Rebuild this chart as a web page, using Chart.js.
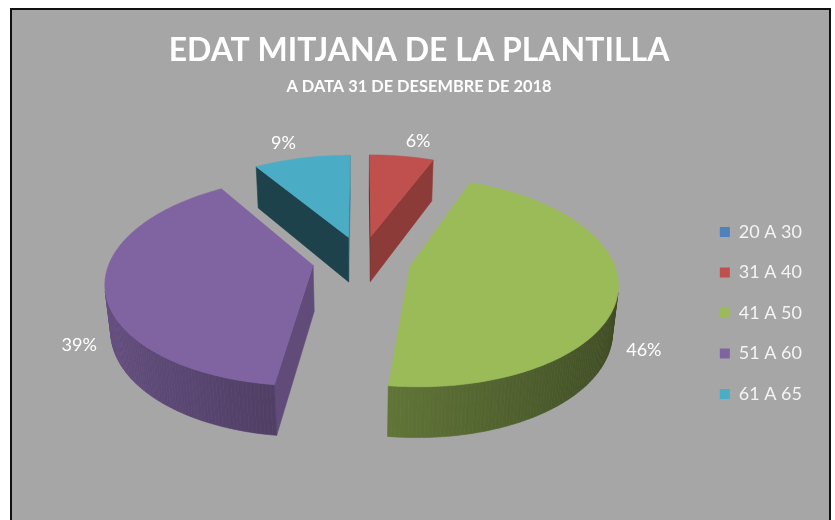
<!DOCTYPE html>
<html><head><meta charset="utf-8">
<script src="https://cdn.jsdelivr.net/npm/chart.js@4.4.1/dist/chart.umd.min.js"></script>
<style>
html,body{margin:0;padding:0;background:#fff;overflow:hidden;}
#frame{position:absolute;left:10px;top:8px;width:821px;height:540px;background:#a6a6a6;border:2px solid #111;box-sizing:border-box;}
#c{position:absolute;left:0;top:0;}
</style></head><body>
<div id="frame"></div>
<canvas id="c" width="835" height="520"></canvas>
<script>
const categories = ['20 A 30', '31 A 40', '41 A 50', '51 A 60', '61 A 65'];
const shares = [0, 6, 46, 39, 9];
const chartTitle = 'EDAT MITJANA DE LA PLANTILLA';
const chartSubtitle = 'A DATA 31 DE DESEMBRE DE 2018';
const sliceColors = ['#4F81BD', '#C0504D', '#9BBB59', '#8064A2', '#4BACC6'];

function hexToRgb(h){ const n = parseInt(h.slice(1), 16); return [(n >> 16) & 255, (n >> 8) & 255, n & 255]; }
function shade(h, f){ const [r, g, b] = hexToRgb(h); const c = v => Math.max(0, Math.min(255, Math.round(v * f))); return `rgb(${c(r)},${c(g)},${c(b)})`; }
function centroid(pts){ const c = [0, 0, 0]; pts.forEach(P => { c[0] += P[0]; c[1] += P[1]; c[2] += P[2]; }); return c.map(v => v / pts.length); }

const pie3d = {
  id: 'pie3d',
  beforeDatasetDraw(){ return false; },
  afterDatasetsDraw(chart, args, o){
    const meta = chart.getDatasetMeta(0);
    const all = meta.data;
    if (!all.length) return;
    const ctx = chart.ctx;
    const R = all[0].outerRadius;
    const S0 = o.scale * R, cx = all[0].x, cy = all[0].y - o.lift * R;
    const al = o.elevation * Math.PI / 180, sa = Math.sin(al), ca = Math.cos(al), ta = sa / ca;
    const p = o.perspective, H = o.depth, Dc = ca / p;
    const cam = [0, Dc * sa, -Dc * ca];
    const proj = P => { const w = 1 + p * P[2] - p * ta * P[1]; const s = S0 / w; return [cx + s * P[0], cy - s * (P[1] * ca + P[2] * sa)]; };
    const visible = (n, P) => n[0] * (cam[0] - P[0]) + n[1] * (cam[1] - P[1]) + n[2] * (cam[2] - P[2]) > 0;
    const dist = P => Math.hypot(cam[0] - P[0], cam[1] - P[1], cam[2] - P[2]);
    const fillPoly = (pts, color) => {
      ctx.beginPath();
      pts.forEach((P, i) => { const q = proj(P); if (i) ctx.lineTo(q[0], q[1]); else ctx.moveTo(q[0], q[1]); });
      ctx.closePath();
      ctx.fillStyle = color; ctx.fill();
      ctx.strokeStyle = color; ctx.lineWidth = 0.6; ctx.stroke();
    };
    const slices = [];
    all.forEach((a, idx) => {
      if (a.endAngle - a.startAngle < 1e-6) return;
      const t0 = a.startAngle + Math.PI / 2, t1 = a.endAngle + Math.PI / 2, tm = (t0 + t1) / 2;
      const e = (a.options.offset || 0) / R;
      slices.push({ idx, t0, t1, tm, ox: e * Math.sin(tm), oz: e * Math.cos(tm), color: a.options.backgroundColor });
    });
    const sd = s => dist([s.ox + 0.5 * Math.sin(s.tm), 0, s.oz + 0.5 * Math.cos(s.tm)]);
    slices.sort((A, B) => sd(B) - sd(A));
    const pt = (s, t, Y) => [s.ox + Math.sin(t), Y, s.oz + Math.cos(t)];
    ctx.save();
    slices.forEach(s => {
      const faces = [];
      const A0 = [s.ox, 0, s.oz], A1 = [s.ox, -H, s.oz];
      const ns = [-Math.cos(s.t0), 0, Math.sin(s.t0)];
      faces.push({ pts: [A0, pt(s, s.t0, 0), pt(s, s.t0, -H), A1], n: ns, f: o.cutBase + o.cutSlope * ns[0] });
      const ne = [Math.cos(s.t1), 0, -Math.sin(s.t1)];
      faces.push({ pts: [A0, pt(s, s.t1, 0), pt(s, s.t1, -H), A1], n: ne, f: o.cutBase + o.cutSlope * ne[0] });
      const steps = Math.max(2, Math.ceil((s.t1 - s.t0) / (Math.PI / 180)));
      for (let k = 0; k < steps; k++) {
        const u0 = s.t0 + (s.t1 - s.t0) * k / steps, u1 = s.t0 + (s.t1 - s.t0) * (k + 1) / steps, um = (u0 + u1) / 2;
        const n = [Math.sin(um), 0, Math.cos(um)];
        faces.push({ pts: [pt(s, u0, 0), pt(s, u1, 0), pt(s, u1, -H), pt(s, u0, -H)], n, f: o.wallBase + o.wallSlope * n[0] });
      }
      const vis = faces.filter(F => visible(F.n, centroid(F.pts)));
      vis.sort((F, G) => dist(centroid(G.pts)) - dist(centroid(F.pts)));
      vis.forEach(F => fillPoly(F.pts, shade(s.color, F.f)));
      const top = [A0];
      for (let k = 0; k <= steps; k++) top.push(pt(s, s.t0 + (s.t1 - s.t0) * k / steps, 0));
      fillPoly(top, s.color);
    });
    // percentage labels
    const data = chart.data.datasets[0].data;
    const total = data.reduce((x, y) => x + y, 0);
    ctx.font = `${o.labelSize}px ${o.labelFont}`;
    ctx.fillStyle = o.labelColor; ctx.textAlign = 'center'; ctx.textBaseline = 'middle';
    slices.forEach(s => {
      const txt = Math.round(data[s.idx] / total * 100) + '%';
      const front = Math.cos(s.tm) < 0;
      const P = [s.ox + o.labelRadius * Math.sin(s.tm), front ? -H : 0, s.oz + o.labelRadius * Math.cos(s.tm)];
      let [lx, ly] = proj(P);
      const tw = ctx.measureText(txt).width;
      if (front) { ly += o.labelSize / 3; }
      else { lx += Math.sign(Math.sin(s.tm)) * tw * 0.5; ly -= o.labelSize / 4; }
      ctx.fillText(txt, lx, ly);
    });
    ctx.restore();
  }
};

new Chart(document.getElementById('c'), {
  type: 'pie',
  data: {
    labels: categories,
    datasets: [{ data: shares, backgroundColor: sliceColors, borderWidth: 0, offset: 44, hoverOffset: 0 }]
  },
  options: {
    responsive: false,
    animation: false,
    devicePixelRatio: 1,
    events: [],
    layout: { padding: { top: 10, left: 26, right: 23, bottom: 4 } },
    plugins: {
      title: { display: true, text: chartTitle, color: '#ffffff', font: { family: 'Lato', weight: 'bold', size: 32 }, padding: { top: 21.1, bottom: 0 } },
      subtitle: { display: true, text: chartSubtitle, color: '#ffffff', font: { family: 'Lato', weight: 'bold', size: 16.4 }, padding: { top: 7.8, bottom: 13.2 } },
      legend: { position: 'right', align: 'center', fullSize: false,
        labels: { boxWidth: 10, boxHeight: 10, padding: 22.5, color: '#f4f4f4', font: { family: 'Lato', size: 18 } } },
      tooltip: { enabled: false },
      pie3d: { scale: 1.122, lift: 0.2935, elevation: 29.7, perspective: 0.15, depth: 0.265,
        cutBase: 0.55, cutSlope: 0.2, wallBase: 0.6, wallSlope: -0.2,
        labelRadius: 1.15, labelFont: 'Lato', labelSize: 18, labelColor: '#ffffff' }
    }
  },
  plugins: [pie3d]
});
</script></body></html>
